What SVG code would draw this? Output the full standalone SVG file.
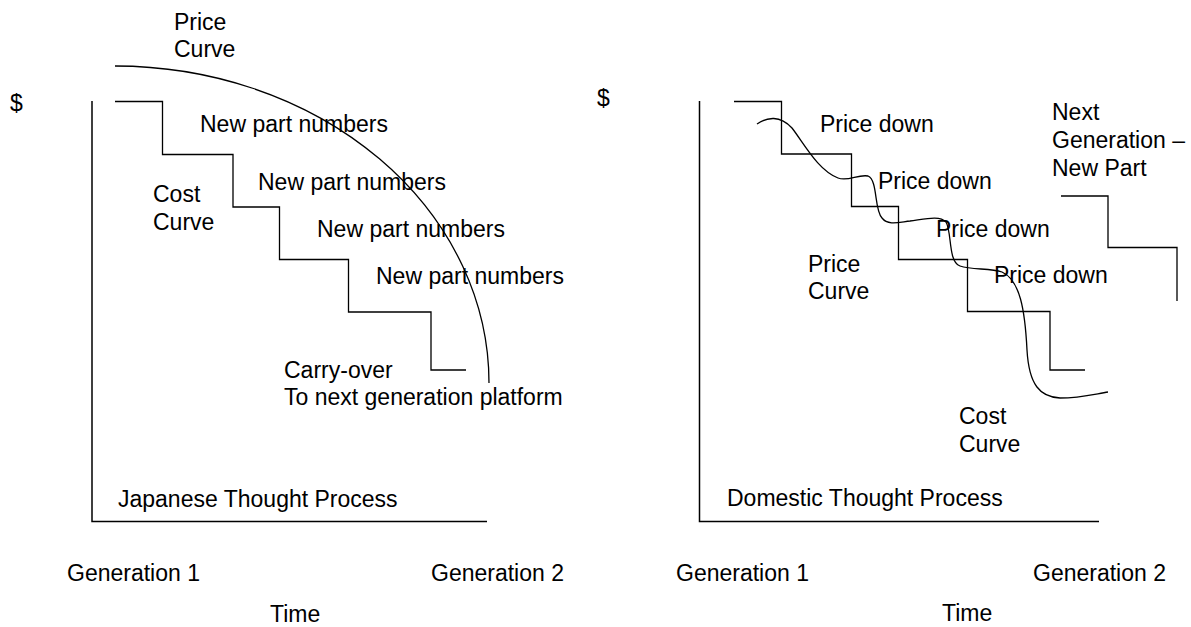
<svg xmlns="http://www.w3.org/2000/svg" width="1191" height="627" viewBox="0 0 1191 627">
<style>
text{font-family:"Liberation Sans",Arial,sans-serif;font-size:23px;fill:#000}
.ln{fill:none;stroke:#000;stroke-width:1.3}
.ax{fill:none;stroke:#000;stroke-width:1.5}
</style>
<rect width="1191" height="627" fill="#fff"/>
<g id="left-panel">
  <g id="left-axes">
    <path class="ax" d="M92,101 V521.5 H487"/>
    <text x="10" y="111">$</text>
  </g>
  <g id="left-price-curve">
    <path class="ln" d="M115,66 A374,317 0 0 1 489,383"/>
    <text x="174" y="30">Price</text>
    <text x="174" y="57">Curve</text>
  </g>
  <g id="left-cost-curve">
    <path class="ln" d="M115,101.5 H162.5 V154.5 H233 V207 H279.5 V259.5 H348.5 V312 H431 V370 H466"/>
    <text x="153" y="202">Cost</text>
    <text x="153" y="230">Curve</text>
  </g>
  <g id="left-labels">
    <text x="200" y="132">New part numbers</text>
    <text x="258" y="190">New part numbers</text>
    <text x="317" y="237">New part numbers</text>
    <text x="376" y="284">New part numbers</text>
    <text x="284" y="378">Carry-over</text>
    <text x="284" y="405">To next generation platform</text>
    <text x="118" y="507">Japanese Thought Process</text>
    <text x="67" y="581">Generation 1</text>
    <text x="431" y="581">Generation 2</text>
    <text x="270" y="622">Time</text>
  </g>
</g>
<g id="right-panel">
  <g id="right-axes">
    <path class="ax" d="M699.5,101 V521.5 H1099"/>
    <text x="597" y="106">$</text>
  </g>
  <g id="right-cost-curve">
    <path class="ln" d="M734,101.5 H781.5 V154 H851.5 V206.5 H898.5 V259.5 H967.5 V311.5 H1050 V370 H1085"/>
    <text x="959" y="424">Cost</text>
    <text x="959" y="452">Curve</text>
  </g>
  <g id="right-price-curve">
    <path class="ln" d="M757,124 C767,117 780,115 792,128 C805,145 818,170 838,178 C848,182 858,174 868,176 C878,180 874,210 882,218 C888,226 900,222 910,221 C925,219 940,215 946,222 C952,232 948,262 960,266 C972,270 990,268 1002,272 C1020,280 1025,310 1027,350 C1029,385 1040,397 1060,398 C1080,398 1095,394 1108,392"/>
    <text x="808" y="272">Price</text>
    <text x="808" y="299">Curve</text>
  </g>
  <g id="next-generation">
    <path class="ln" d="M1061,196 H1108 V247.5 H1177 V301"/>
    <text x="1052" y="120">Next</text>
    <text x="1052" y="148">Generation –</text>
    <text x="1052" y="176">New Part</text>
  </g>
  <g id="right-labels">
    <text x="820" y="132">Price down</text>
    <text x="878" y="189">Price down</text>
    <text x="936" y="237">Price down</text>
    <text x="994" y="283">Price down</text>
    <text x="727" y="506">Domestic Thought Process</text>
    <text x="676" y="581">Generation 1</text>
    <text x="1033" y="581">Generation 2</text>
    <text x="942" y="621">Time</text>
  </g>
</g>
</svg>
